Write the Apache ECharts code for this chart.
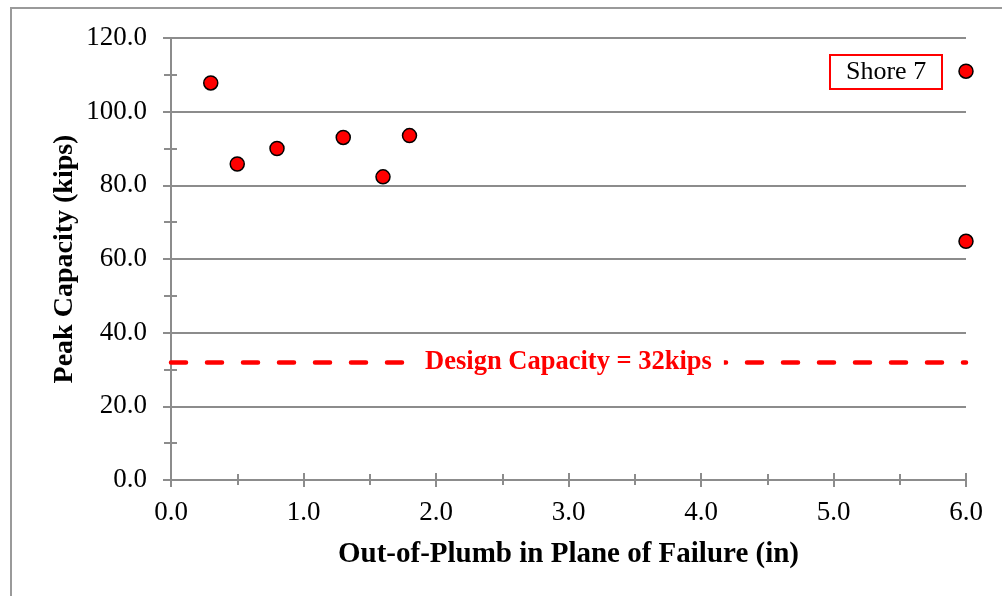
<!DOCTYPE html>
<html>
<head>
<meta charset="utf-8">
<script src="https://cdn.jsdelivr.net/npm/echarts@6/dist/echarts.min.js"></script>
<style>
  html, body { margin: 0; padding: 0; background: #fff; }
  #chart { width: 1002px; height: 596px; }
</style>
</head>
<body>
<div id="chart"></div>
<script>
// out-of-plumb (in) and peak capacity (kips) for each test
const outOfPlumb = [0.3, 0.5, 0.8, 1.3, 1.6, 1.8, 6.0, 6.0]
const peakCapacity = [107.8, 85.8, 90.0, 93.0, 82.3, 93.5, 111.0, 64.8]
const designCapacity = 32
const designLabel = 'Design Capacity = 32kips'
const seriesName = 'Shore 7'
const xTitle = 'Out-of-Plumb in Plane of Failure (in)'
const yTitle = 'Peak Capacity (kips)'

const font = "'Liberation Serif', 'Times New Roman', serif"
const gray = '#8c8c8c'

const points = outOfPlumb.map((x, i) => [x, peakCapacity[i]])

const chart = echarts.init(document.getElementById('chart'))

// second set of axes only draws the inner half of the crossing ticks
const innerTicks = {
  axisLabel: { show: false },
  axisLine: { show: false },
  splitLine: { show: false },
  axisTick: { show: true, inside: true, length: 7, lineStyle: { color: gray, width: 2 } },
  minorTick: { show: true, splitNumber: 2, length: 6, lineStyle: { color: gray, width: 2 } }
}

const option = {
  animation: false,
  backgroundColor: '#fff',
  textStyle: { fontFamily: font },
  graphic: [{
    type: 'rect',
    shape: { x: 11, y: 8, width: 1100, height: 700 },
    style: { fill: 'none', stroke: '#9a9a9a', lineWidth: 2 },
    silent: true
  }],
  title: {
    text: seriesName,
    left: 830,
    top: 55,
    padding: [4, 16],
    borderColor: '#ff0000',
    borderWidth: 2,
    textStyle: { fontFamily: font, fontSize: 26, fontWeight: 'normal', color: '#000' }
  },
  grid: {
    left: 171,
    right: 36,
    top: 38,
    bottom: 116,
    containLabel: false,
    outerBoundsMode: 'none'
  },
  xAxis: [{
    type: 'value',
    min: 0,
    max: 6,
    interval: 1,
    name: xTitle,
    nameLocation: 'middle',
    nameGap: 60,
    nameMoveOverlap: false,
    nameTextStyle: { fontFamily: font, fontSize: 29, fontWeight: 'bold', color: '#000' },
    axisLine: { show: true, onZero: false, lineStyle: { color: gray, width: 2 } },
    axisTick: { show: true, length: 7, lineStyle: { color: gray, width: 2 } },
    minorTick: { show: true, splitNumber: 2, length: 5, lineStyle: { color: gray, width: 2 } },
    axisLabel: {
      fontFamily: font, fontSize: 27, color: '#000', margin: 19,
      formatter: v => v.toFixed(1)
    },
    splitLine: { show: false }
  }, Object.assign({ type: 'value', min: 0, max: 6, interval: 1, position: 'bottom', offset: 0 }, innerTicks)],
  yAxis: [{
    type: 'value',
    min: 0,
    max: 120,
    interval: 20,
    name: yTitle,
    nameLocation: 'middle',
    nameGap: 92,
    nameMoveOverlap: false,
    nameTextStyle: { fontFamily: font, fontSize: 28, fontWeight: 'bold', color: '#000' },
    axisLine: { show: true, onZero: false, lineStyle: { color: gray, width: 2 } },
    axisTick: { show: true, length: 8, lineStyle: { color: gray, width: 2 } },
    minorTick: { show: true, splitNumber: 2, length: 7, lineStyle: { color: gray, width: 2 } },
    axisLabel: {
      fontFamily: font, fontSize: 27, color: '#000', margin: 24,
      formatter: v => v.toFixed(1)
    },
    splitLine: { show: true, lineStyle: { color: gray, width: 2 } }
  }, Object.assign({ type: 'value', min: 0, max: 120, interval: 20, position: 'left', offset: 0 }, innerTicks, {
    axisTick: { show: false, inside: true }
  })],
  series: [{
    name: seriesName,
    type: 'scatter',
    data: points,
    symbol: 'circle',
    symbolSize: 14,
    clip: false,
    z: 5,
    itemStyle: { color: '#ff0000', borderColor: '#000', borderWidth: 1.5, opacity: 1 },
    markLine: {
      silent: true,
      symbol: 'none',
      animation: false,
      lineStyle: { color: '#ff0000', width: 4.5, type: [15, 21], cap: 'round' },
      label: {
        show: true,
        position: 'insideMiddle',
        distance: 0,
        formatter: designLabel,
        fontFamily: font,
        fontSize: 26.5,
        fontWeight: 'bold',
        color: '#ff0000',
        backgroundColor: '#fff',
        padding: [2, 12]
      },
      data: [{ yAxis: designCapacity }]
    }
  }]
}

chart.setOption(option)
</script>
</body>
</html>
